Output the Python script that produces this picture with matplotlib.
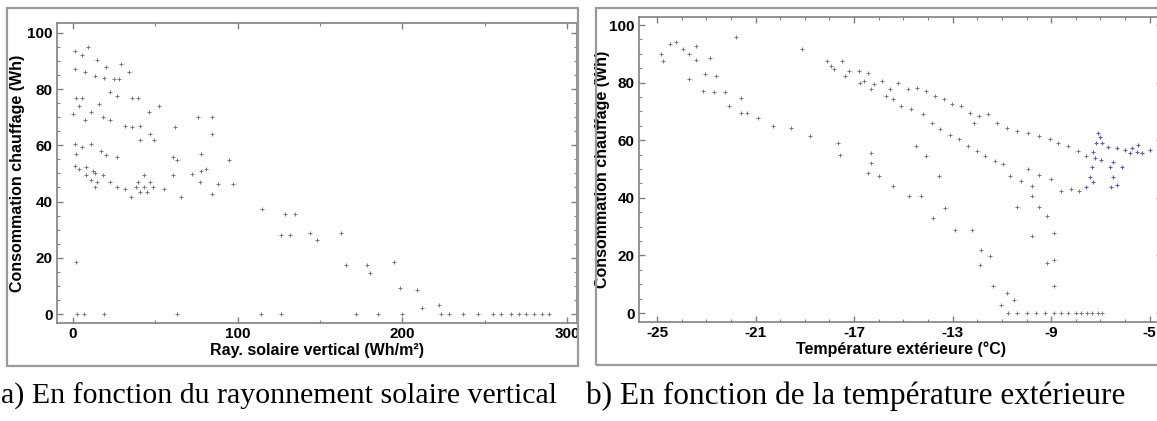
import matplotlib
matplotlib.use("Agg")
import matplotlib.pyplot as plt
from matplotlib.patches import Rectangle
from matplotlib.ticker import MultipleLocator
import numpy as np

plt.rcParams["axes.unicode_minus"] = False

# panel a: solar radiation (Wh/m2) vs heating consumption (Wh)
sol_x = [1, 5.6, 9, 14.7, 20, 29, 34, 1, 7, 13.5, 19, 25, 28, 2, 5.6, 22.6, 27, 36, 39.5,
         3.4, 15.8, 52, 46, 0, 7, 11, 18, 22.6, 31.6, 36, 40.6, 62, 75.6, 84.6, 47, 40.6,
         49.4, 84.6, 1, 5.6, 11, 2, 17, 20, 27, 78, 95, 61, 1, 3.4, 7.9, 12.4, 13.5, 18,
         7.9, 11, 14.7, 13.5, 22.6, 27, 31.6, 35, 38, 39.5, 40.6, 43, 45, 47, 48.5, 43, 55,
         61, 63, 65.5, 72, 78, 77, 81, 84.6, 88, 97, 115, 129, 135, 126, 132, 144, 148,
         162.5, 166, 178.5, 180.6, 195, 198.6, 209, 212, 222, 2,
         2.3, 6.8, 19, 63, 114, 126, 171.6, 185, 200, 223.5, 228, 237, 246, 255, 259.6,
         266, 271, 275, 280, 284.7, 289]
sol_y = [93.5, 92, 95, 90.5, 88, 89, 86, 87, 86, 84.7, 84, 83.5, 83.5, 77, 77, 78.8, 77.6,
         77, 77, 74, 74.6, 74, 72, 71, 69, 72, 70, 69, 67, 66.4, 67, 66.4, 70, 70, 64, 62,
         62, 64, 60.5, 59.3, 60.5, 57, 58, 56.4, 55.8, 57, 54.6, 55.8, 52.8, 51.6, 52.2, 51,
         50, 49.3, 49.3, 47.5, 47, 45, 47, 45, 44.6, 41.6, 45, 47, 43.4, 45, 43.4, 47, 45,
         49.3, 44.6, 49.3, 54.6, 41.6, 49.9, 51, 47, 51.6, 42.8, 46.3, 46.3, 37.5, 35.7,
         35.7, 28, 28, 28.7, 26.3, 28.7, 17.5, 17.5, 14.5, 18.6, 9.2, 8.6, 2, 3.3, 18.6,
         0, 0, 0, 0, 0, 0, 0, 0, 0, 0, 0, 0, 0, 0, 0, 0, 0, 0, 0, 0, 0]

# panel b: outdoor temperature (degC) vs heating consumption (Wh)
temp_x = [-24.84, -24.47, -24.24, -23.95, -23.72, -23.43, -23.43, -22.83, -24.76, -23.72,
          -23.06, -22.6, -23.13, -22.7, -22.24, -22.09, -21.6, -21.6, -21.35, -20.9, -20.3,
          -19.57, -18.8, -21.8, -19.12, -17.64, -17.57, -16.3, -16.3, -16.45, -16.0, -15.4,
          -14.75, -14.3, -14.5, -14.1, -13.56, -13.8, -13.3, -12.9, -12.2, -11.85, -11.9,
          -11.5, -11.35, -11.05, -10.5,
          -18.09, -17.94, -17.5, -17.2, -16.8, -16.45, -16.6, -16.2, -15.86, -15.56, -15.2,
          -14.8, -14.45, -14.08, -13.7, -13.34, -13.04, -12.67, -12.3, -11.93, -11.56,
          -11.2, -10.8, -10.37, -9.93, -9.48, -9.03, -8.74, -8.3, -7.9, -7.6, -12.15,
          -17.8, -17.35, -16.75, -16.3, -15.7, -15.4, -15.1, -14.67, -14.2, -13.85, -13.5,
          -13.1, -12.75, -12.37, -12.0, -11.7, -11.26, -10.97, -10.67, -10.22, -9.78, -9.48,
          -9.0, -8.6, -8.2, -7.85, -9.93,
          -10.37, -9.78, -9.48, -9.18, -9.78, -8.9, -9.18, -8.9, -8.9, -10.8,
          -10.74, -10.37, -10.0, -9.63, -9.26, -8.89, -8.59, -8.3, -8.0, -7.78, -7.56,
          -7.33, -7.1, -6.95]
temp_y = [89.9, 93.4, 94, 91.6, 90, 92.8, 88, 88.7, 87.6, 81.2, 83, 82.4, 77, 76.6, 76.6,
          72, 74.8, 69.6, 69.6, 67.9, 65, 64.4, 61.5, 95.7, 91.6, 59.2, 55, 55.7, 52.2,
          48.7, 47.6, 44, 40.6, 40.6, 58, 54.5, 47.6, 33, 36.5, 29, 29, 22, 16.8, 19.7, 9.3,
          2.9, 4.6,
          87.6, 85.8, 87.6, 84.1, 84.1, 83.5, 80.6, 79.5, 80.6, 77.7, 80, 77.7, 78.3, 77,
          75.4, 74.2, 72.5, 71.9, 69.6, 68.4, 69, 66, 64.4, 63.2, 62.6, 61.5, 60.3, 59.2,
          58, 56.3, 54.5, 66.1,
          84.7, 82.4, 80, 77.7, 75.4, 74.2, 72, 70.8, 69, 66, 63.8, 62, 60.3, 58, 56.3,
          54.5, 52.8, 51.6, 47.6, 45.8, 44, 48.1, 46.4, 42.3, 43, 42.3, 49.9,
          37, 40.6, 37, 33.6, 26.7, 27.8, 17.4, 18.6, 9.3, 7,
          0, 0, 0, 0, 0, 0, 0, 0, 0, 0, 0, 0, 0, 0]

# blue subset in panel b
blue_x = [-7.02, -6.95, -7.16, -6.68, -6.34, -6.0, -5.73, -5.53, -4.99, -7.3, -7.23, -6.96,
          -7.36, -7.44, -7.57, -7.3, -6.6, -6.48, -6.34, -6.55, -6.14, -6.48, -5.46, -5.33,
          -5.8, -7.1]
blue_y = [61.2, 58.9, 58.9, 57.7, 57.2, 56.6, 57.2, 56, 56.6, 56, 53.7, 53.1, 50.8, 47.3,
          43.9, 45.6, 50.8, 47.3, 44.4, 43.9, 50.8, 52.5, 58.3, 55.5, 55.5, 62.4]

W, H = 1157, 421
fig = plt.figure(figsize=(W / 100, H / 100), dpi=100)
fig.patch.set_facecolor("white")

lab_kw = dict(fontsize=11.5, fontweight="bold", family="Liberation Sans")


def box(x0, y0, x1, y1):
    # pixel coords measured from top-left
    return [x0 / W, 1 - y1 / H, (x1 - x0) / W, (y1 - y0) / H]


def style(ax):
    for s in ax.spines.values():
        s.set_color("#808080")
        s.set_linewidth(1.2)
    ax.tick_params(which="both", direction="in", top=True, right=True, colors="#808080",
                   labelcolor="black", labelsize=11, pad=3)
    ax.tick_params(which="major", length=4, width=1)
    ax.tick_params(which="minor", length=2.5, width=0.8)
    for lab in ax.get_xticklabels() + ax.get_yticklabels():
        lab.set_family("Liberation Sans")
        lab.set_fontweight("bold")
    ax.yaxis.set_major_locator(MultipleLocator(20))
    ax.yaxis.set_minor_locator(MultipleLocator(5))


# outer frames
for fr in [(7, 8, 578, 366), (596, 8, 1165, 365)]:
    x, y, w, h = box(*fr)
    fig.patches.append(Rectangle((x, y), w, h, transform=fig.transFigure, fill=False,
                                 edgecolor="#9a9a9a", linewidth=1.6))

pt_kw = dict(marker="+", s=9, color="#333333", linewidths=0.7, alpha=0.65)

ax1 = fig.add_axes(box(57, 23, 577, 323))
ax1.scatter(sol_x, sol_y, **pt_kw)
ax1.set_xlim(-9.7, 306)
ax1.set_ylim(-3.2, 103.5)
ax1.xaxis.set_major_locator(MultipleLocator(100))
ax1.xaxis.set_minor_locator(MultipleLocator(50))
ax1.set_xlabel("Ray. solaire vertical (Wh/m²)", labelpad=1, **lab_kw)
ax1.set_ylabel("Consommation chauffage (Wh)", labelpad=2, **lab_kw)
style(ax1)

ax2 = fig.add_axes(box(639, 17, 1162, 322))
ax2.scatter(temp_x, temp_y, **pt_kw)
ax2.scatter(blue_x, blue_y, marker="+", s=11, color="#3a3aa0", linewidths=0.8, alpha=0.8)
ax2.set_xlim(-25.73, -4.5)
ax2.set_ylim(-3.1, 102.8)
ax2.set_xticks([-25, -21, -17, -13, -9, -5])
ax2.xaxis.set_minor_locator(MultipleLocator(1))
ax2.set_xlabel("Température extérieure (°C)", labelpad=1, **lab_kw)
ax2.set_ylabel("Consommation chauffage (Wh)", **lab_kw)
ax2.yaxis.set_label_coords(-0.055, 0.5)
style(ax2)

fig.text(1 / W, 1 - 396 / H, "a) En fonction du rayonnement solaire vertical",
         ha="left", va="center", family="Liberation Serif", size=21.5)
fig.text(586 / W, 1 - 396 / H, "b) En fonction de la température extérieure",
         ha="left", va="center", family="Liberation Serif", size=22.5)

fig.savefig("out.png", dpi=100, facecolor="white")
